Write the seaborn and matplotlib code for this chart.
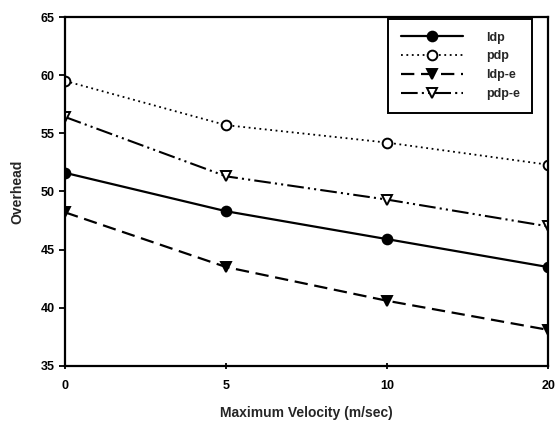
import pandas as pd
import matplotlib
matplotlib.use('Agg')
import matplotlib.pyplot as plt
import seaborn as sns

# Overhead vs maximum velocity
velocity = ['0', '5', '10', '20']
ldp = [51.6, 48.3, 45.9, 43.5]
pdp = [59.5, 55.7, 54.2, 52.3]
ldp_e = [48.2, 43.5, 40.6, 38.1]
pdp_e = [56.4, 51.3, 49.3, 47.0]

sns.set_style('ticks')
plt.rcParams['font.family'] = ['Liberation Sans', 'DejaVu Sans']

fig = plt.figure(figsize=(5.57, 4.25), dpi=100)
ax = fig.add_axes([0.117, 0.139, 0.867, 0.821])

series = [
    ('ldp', ldp, '-', 'o', 'black', 1.6),
    ('pdp', pdp, (0, (1, 2)), 'o', 'white', 1.3),
    ('ldp-e', ldp_e, (0, (6, 3)), 'v', 'black', 1.6),
    ('pdp-e', pdp_e, (0, (8, 2, 1, 2, 1, 2)), 'v', 'white', 1.5),
]
for name, vals, ls, mk, fc, lw in series:
    sns.lineplot(x=velocity, y=vals, sort=False, ax=ax, color='black',
                 linestyle=ls, linewidth=lw, marker=mk, markersize=7,
                 markerfacecolor=fc, markeredgecolor='black',
                 markeredgewidth=1.4, label=name)

ax.set_xlim(0, 3)
ax.set_ylim(35, 65)
ax.set_yticks([35, 40, 45, 50, 55, 60, 65])
for s in ax.spines.values():
    s.set_linewidth(1.6)
    s.set_color('black')
ax.tick_params(axis='both', colors='black', width=1.3, length=4, labelsize=9)
ax.tick_params(axis='x', direction='inout', pad=8)
for lab in ax.get_xticklabels() + ax.get_yticklabels():
    lab.set_fontweight('bold')
ax.set_xlabel('Maximum Velocity (m/sec)', fontsize=10, fontweight='bold', labelpad=10)
ax.set_ylabel('Overhead', fontsize=10, fontweight='bold', labelpad=12)

leg = ax.legend(loc='upper right', bbox_to_anchor=(0.98, 1.012), numpoints=1,
                handlelength=5, fancybox=False, edgecolor='black',
                framealpha=1, prop={'weight': 'bold', 'size': 9},
                borderpad=1.0, labelspacing=0.55, handletextpad=1.8)
leg.get_frame().set_linewidth(1.4)

fig.savefig('out.png', dpi=100)
